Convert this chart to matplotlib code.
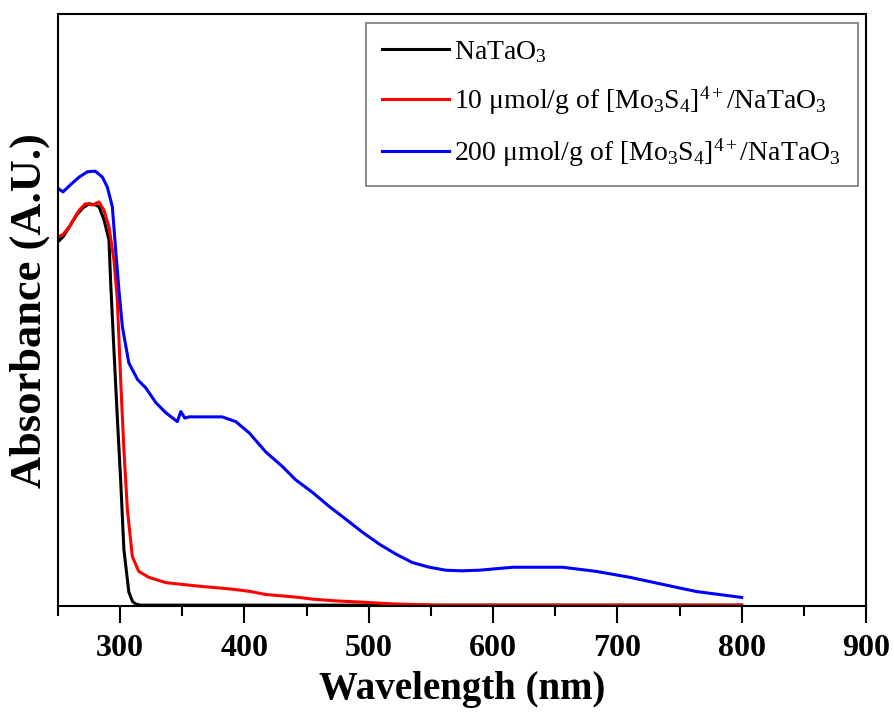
import numpy as np
import matplotlib
matplotlib.use('Agg')
import matplotlib.pyplot as plt
from matplotlib.ticker import MultipleLocator

plt.rcParams['font.family'] = ['Liberation Serif', 'DejaVu Serif']
plt.rcParams['mathtext.fontset'] = 'custom'
plt.rcParams['mathtext.rm'] = 'Liberation Serif'
plt.rcParams['mathtext.it'] = 'Liberation Serif:italic'

# NaTaO3 (arbitrary units)
wl_black = [250, 254, 260, 265, 270, 275, 280, 283, 287, 291, 292.4, 295, 297.7,
            300.5, 303, 307, 310, 312.5, 316, 400, 500, 600, 700, 800]
ab_black = [0.616, 0.624, 0.644, 0.661, 0.673, 0.680, 0.678, 0.675, 0.653, 0.619,
            0.546, 0.433, 0.320, 0.209, 0.096, 0.024, 0.008, 0.004, 0.002, 0.002,
            0.002, 0.002, 0.002, 0.002]

# 10 umol/g of [Mo3S4]4+/NaTaO3
wl_red = [250, 254, 259, 263, 267, 272, 277.6, 281, 283, 287, 291, 295, 297.7,
          300.5, 303, 305.8, 309.8, 315, 323, 336.7, 350, 363.5, 390, 405, 417,
          428, 444, 455, 475, 495, 520, 554, 600, 700, 800]
ab_red = [0.624, 0.628, 0.641, 0.655, 0.669, 0.680, 0.678, 0.681, 0.683, 0.669,
          0.641, 0.585, 0.518, 0.378, 0.265, 0.164, 0.084, 0.059, 0.049, 0.040,
          0.037, 0.034, 0.029, 0.025, 0.020, 0.018, 0.015, 0.012, 0.009, 0.007,
          0.004, 0.002, 0.002, 0.002, 0.002]

# 200 umol/g of [Mo3S4]4+/NaTaO3
wl_blue = [250, 254, 260, 267, 273.6, 280, 285.7, 289.7, 293.7, 296.4, 299, 301.8,
           307, 314, 320.6, 328.7, 336.7, 346, 348.8, 352, 355.5, 369, 382, 393,
           403.8, 417, 430.6, 441, 455, 468, 481.6, 495, 508.5, 522, 535, 548.7,
           562, 575, 589, 616, 642.6, 656, 683, 710, 736.6, 763.5, 800]
ab_blue = [0.706, 0.700, 0.712, 0.725, 0.734, 0.735, 0.725, 0.708, 0.675, 0.602,
           0.535, 0.472, 0.411, 0.383, 0.369, 0.344, 0.327, 0.312, 0.329, 0.318,
           0.320, 0.320, 0.320, 0.312, 0.293, 0.261, 0.236, 0.214, 0.192, 0.169,
           0.147, 0.125, 0.105, 0.088, 0.074, 0.066, 0.061, 0.060, 0.061, 0.066,
           0.066, 0.066, 0.059, 0.049, 0.037, 0.025, 0.015]

labels = ['NaTaO$_3$',
          '10 \u03bcmol/g of [Mo$_3$S$_4$]$^{4+}$/NaTaO$_3$',
          '200 \u03bcmol/g of [Mo$_3$S$_4$]$^{4+}$/NaTaO$_3$']

fig = plt.figure(figsize=(8.95, 7.15), dpi=100)
ax = fig.add_axes([0.0648, 0.152, 0.9028, 0.828])

ax.plot(wl_black, ab_black, color='black', lw=2.2, label=labels[0])
ax.plot(wl_red, ab_red, color='red', lw=2.2, label=labels[1])
ax.plot(wl_blue, ab_blue, color='blue', lw=2.2, label=labels[2])

ax.set_xlim(250, 900)
ax.set_ylim(0, 1)
ax.xaxis.set_major_locator(MultipleLocator(100))
ax.xaxis.set_minor_locator(MultipleLocator(50))
ax.tick_params(axis='x', which='major', length=12, width=1.5, direction='out',
               labelsize=23, pad=8)
ax.tick_params(axis='x', which='minor', length=7, width=1.5, direction='out')
ax.set_yticks([])
for lab in ax.get_xticklabels():
    lab.set_fontweight('bold')
for s in ax.spines.values():
    s.set_linewidth(1.5)

ax.set_xlabel('Wavelength (nm)', fontsize=28, fontweight='bold', labelpad=6)
ax.set_ylabel('Absorbance (A.U.)', fontsize=32, fontweight='bold', labelpad=6)

leg = ax.legend(loc='upper right', fontsize=20, frameon=True, fancybox=False,
                edgecolor='#555555', handlelength=2.4, handletextpad=0.2,
                borderaxespad=0.3, labelspacing=0.7, borderpad=0.6)
leg.get_frame().set_linewidth(1.2)

fig.savefig('out.png', dpi=100)
